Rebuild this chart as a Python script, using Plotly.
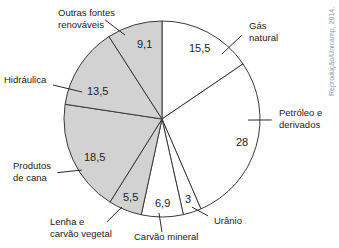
import math
import plotly.graph_objects as go

# ---- data ----
categories = ["Gás natural", "Petróleo e derivados", "Urânio", "Carvão mineral",
              "Lenha e carvão vegetal", "Produtos de cana", "Hidráulica",
              "Outras fontes renováveis"]
values = [15.5, 28, 3, 6.9, 5.5, 18.5, 13.5, 9.1]
value_labels = ["15,5", "28", "3", "6,9", "5,5", "18,5", "13,5", "9,1"]
label_texts = ["Gás<br>natural", "Petróleo e<br>derivados", "Urânio", "Carvão mineral",
               "Lenha e<br>carvão vegetal", "Produtos<br>de cana", "Hidráulica",
               "Outras fontes<br>renováveis"]
renewable = [False, False, False, False, True, True, True, True]
source_note = "Reprodução/Unicamp, 2014."

# ---- layout constants (pixels) ----
W, H = 339, 248
CX, CY, R = 162, 119, 98
FONT = "Liberation Sans, Arial, sans-serif"

# value label placement: (radial fraction, angle offset from slice middle)
value_pos = [(0.82, 0), (0.85, 0), (0.86, 0), (0.86, 0), (0.86, 0),
             (0.79, -5), (0.72, -10), (0.78, 3.5)]
# leader lines: (angle offset a, radius a, angle offset b, radius b)
leaders = [(14.8, 0.90, 15.7, 1.18), (-15.5, 0.878, -15.7, 1.12),
           (-0.8, 0.95, -7.4, 1.095), (2.0, 0.96, 0.2, 1.153),
           (2.3, 0.987, 6.0, 1.19), (-7.8, 0.97, -2.5, 1.20),
           (-14.3, 0.86, -15.6, 1.165), (-7.4, 0.937, -13.5, 1.166)]
# text offset from leader outer end: (dx, dy, xanchor)
text_pos = [(6, -4, "left"), (6, -1.5, "left"), (5, 5, "left"), (4, 5, "center"),
            (-58, 6, "left"), (-45, -1, "left"), (-5, -5, "right"), (-48, -1, "left")]

def px(x):
    return x / W

def py(y):
    return 1 - y / H

def polar(theta_deg, rf):
    t = math.radians(theta_deg)
    return CX + R * rf * math.sin(t), CY - R * rf * math.cos(t)

total = sum(values)
mids = []
cum = 0
for v in values:
    mids.append((cum + v / 2) / total * 360)
    cum += v

colors = ["#d2d2d2" if r else "#ffffff" for r in renewable]

fig = go.Figure(go.Pie(
    labels=categories, values=values, sort=False, direction="clockwise",
    rotation=0, textinfo="none", hoverinfo="label+value",
    marker=dict(colors=colors, line=dict(color="#3a3a3a", width=1)),
    domain=dict(x=[px(CX - R), px(CX + R)], y=[py(CY + R), py(CY - R)]),
    showlegend=False,
))

annotations = []
shapes = []
for i, m in enumerate(mids):
    rf, off = value_pos[i]
    x, y = polar(m + off, rf)
    annotations.append(dict(x=px(x), y=py(y), xref="paper", yref="paper",
                            text=value_labels[i], showarrow=False,
                            xanchor="center", yanchor="middle", borderpad=0,
                            font=dict(family=FONT, size=11, color="#222")))
    a_off, ra, b_off, rb = leaders[i]
    xa, ya = polar(m + a_off, ra)
    xb, yb = polar(m + b_off, rb)
    shapes.append(dict(type="line", xref="paper", yref="paper",
                       x0=px(xa), y0=py(ya), x1=px(xb), y1=py(yb),
                       line=dict(color="#2a2a2a", width=1)))
    dx, dy, xa_ = text_pos[i]
    annotations.append(dict(x=px(xb + dx), y=py(yb + dy), xref="paper", yref="paper",
                            text=label_texts[i], showarrow=False, xanchor=xa_,
                            yanchor="middle", align="left" if xa_ != "center" else "center",
                            borderpad=0,
                            font=dict(family=FONT, size=9.5, color="#222")))

annotations.append(dict(x=px(332), y=py(52), xref="paper", yref="paper",
                        text=source_note, showarrow=False, textangle=-90,
                        xanchor="center", yanchor="middle", borderpad=0,
                        font=dict(family=FONT, size=7, color="#8a96a8")))

fig.update_layout(width=W, height=H, margin=dict(l=0, r=0, t=0, b=0),
                  paper_bgcolor="white", plot_bgcolor="white",
                  annotations=annotations, shapes=shapes)

fig.write_html("out.html")
